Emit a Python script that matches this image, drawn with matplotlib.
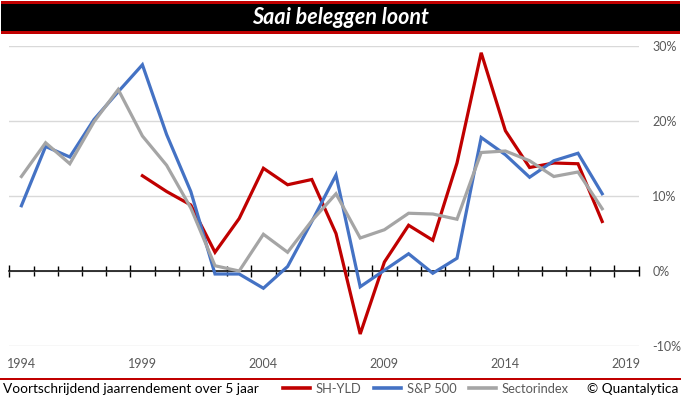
import matplotlib
matplotlib.use("Agg")
import matplotlib.pyplot as plt
from matplotlib.patches import Rectangle
from matplotlib.lines import Line2D

plt.rcParams['font.family'] = ['Lato', 'DejaVu Sans']

years = list(range(1994, 2020))
sh_yld = [None, None, None, None, None, 12.7, 10.6, 8.8, 2.5, 7.0,
          13.7, 11.5, 12.2, 5.0, -8.4, 1.2, 6.1, 4.1, 14.4, 29.1,
          18.7, 13.8, 14.4, 14.3, 6.6, None]
sp500 = [8.7, 16.6, 15.2, 20.2, 23.9, 27.5, 18.2, 10.6, -0.4, -0.4,
         -2.3, 0.6, 6.6, 12.8, -2.1, 0.1, 2.3, -0.3, 1.7, 17.8,
         15.5, 12.5, 14.7, 15.7, 10.3, None]
sector = [12.6, 17.1, 14.3, 19.9, 24.2, 18.0, 14.1, 8.4, 0.7, 0.0,
          4.9, 2.5, 6.7, 10.3, 4.4, 5.5, 7.7, 7.6, 6.9, 15.8,
          16.0, 14.7, 12.6, 13.2, 8.3, None]
series_names = ['SH-YLD', 'S&P 500', 'Sectorindex']
series_colors = ['#C00000', '#4472C4', '#A5A5A5']
y_ticks = [-10, 0, 10, 20, 30]
label_years = [1994, 1999, 2004, 2009, 2014, 2019]

W, H = 681, 399
fig = plt.figure(figsize=(W / 100, H / 100), dpi=100)

def fx(px):
    return px / W

def fy(py):
    return 1 - py / H

# title bar
fig.patches.append(Rectangle((fx(1), fy(34)), fx(679), 33 / H, transform=fig.transFigure,
                             facecolor='#C00000', edgecolor='none'))
fig.patches.append(Rectangle((fx(1), fy(30.7)), fx(679), 27 / H, transform=fig.transFigure,
                             facecolor='black', edgecolor='none'))
fig.text(0.5, fy(17.5), 'Saai beleggen loont', color='white', fontsize=15.5,
         fontweight='bold', fontstyle='italic', ha='center', va='center')

# footer line
fig.patches.append(Rectangle((0, fy(379.5)), 1, 2 / H, transform=fig.transFigure,
                             facecolor='#C00000', edgecolor='none'))

ax = fig.add_axes([fx(9.3), fy(346), fx(638.5 - 9.3), 300 / H])
x = list(range(len(years)))
for vals, name, col in zip([sh_yld, sp500, sector], series_names, series_colors):
    xs = [i for i, v in zip(x, vals) if v is not None]
    ys = [v for v in vals if v is not None]
    ax.plot(xs, ys, color=col, lw=2.3, label=name, solid_joinstyle='miter')

ax.set_xlim(-0.5, len(years) - 0.5)
ax.set_ylim(-10, 30)
ax.set_yticks(y_ticks)
ax.set_yticklabels([f'{v}%' for v in y_ticks])
ax.yaxis.tick_right()
ax.tick_params(axis='y', length=0, pad=10, labelsize=9, labelcolor='#595959')
ax.grid(axis='y', color='#D9D9D9', lw=1)
ax.set_axisbelow(True)
for s in ['top', 'left', 'right']:
    ax.spines[s].set_visible(False)
ax.spines['bottom'].set_position(('data', 0))
ax.spines['bottom'].set_linewidth(1.1)
ax.spines['bottom'].set_zorder(1.5)

bounds = [i - 0.5 for i in range(len(years) + 1)]
ax.set_xticks([b for b in bounds if (b + 0.5) % 5 == 0])
ax.set_xticks([b for b in bounds if (b + 0.5) % 5 != 0], minor=True)
ax.tick_params(axis='x', which='major', direction='inout', length=9, width=1,
               labelbottom=False)
ax.tick_params(axis='x', which='minor', direction='inout', length=6.5, width=1,
               labelbottom=False)

sec = ax.secondary_xaxis('bottom')
sec.set_xticks([years.index(y) for y in label_years])
sec.set_xticklabels([str(y) for y in label_years])
sec.spines['bottom'].set_visible(False)
sec.tick_params(axis='x', length=0, pad=9, labelsize=9, labelcolor='#595959')

fig.text(fx(3), fy(389), 'Voortschrijdend jaarrendement over 5 jaar', fontsize=9.8,
         color='black', ha='left', va='center')
fig.text(fx(678), fy(389), '\u00a9 Quantalytica', fontsize=9.8, color='black',
         ha='right', va='center')

handles = [Line2D([], [], color=c, lw=2.6) for c in series_colors]
leg = fig.legend(handles, series_names, loc='center left',
                 bbox_to_anchor=(fx(283), fy(389)), ncol=3, frameon=False,
                 fontsize=9.3, handlelength=2.1, handletextpad=0.45,
                 columnspacing=0.95, borderpad=0, borderaxespad=0)
for t in leg.get_texts():
    t.set_color('#595959')

fig.savefig('out.png', dpi=100)
